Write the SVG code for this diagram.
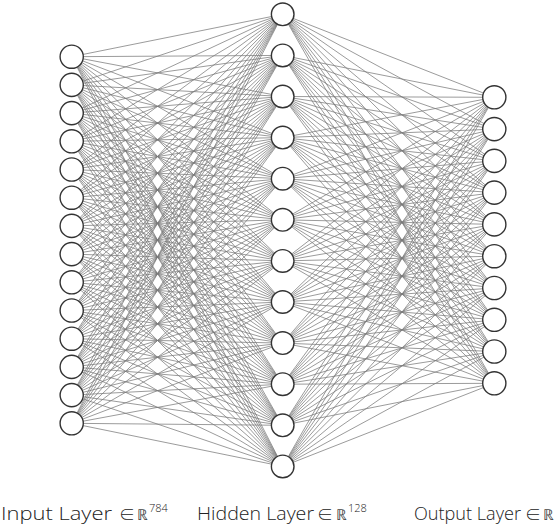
<svg xmlns="http://www.w3.org/2000/svg" width="558" height="526" viewBox="0 0 558 526">
<style>
.c{fill:none;stroke:#7a7a7a;stroke-width:0.75}
.n{fill:#fff;stroke:#333;stroke-width:1.4}
.t{font-family:"Open Sans","Noto Sans","DejaVu Sans",sans-serif;font-weight:300;font-size:19px;fill:#222}
.e{font-family:"Noto Sans CJK JP","Noto Sans CJK SC",sans-serif;font-weight:300;font-size:16px;fill:#222;text-anchor:middle}
.m{font-family:"DejaVu Sans",sans-serif;font-weight:200;font-size:15px;fill:#444}
.s{font-family:"Open Sans","Noto Sans",sans-serif;font-weight:300;font-size:11px;fill:#222}
</style>
<rect width="558" height="526" fill="#fff"/>
<g id="connectors" class="c">
<path d="M282.7 14.3 71.7 56.7M282.7 14.3 71.7 84.9M282.7 14.3 71.7 113.1M282.7 14.3 71.7 141.3M282.7 14.3 71.7 169.5M282.7 14.3 71.7 197.7M282.7 14.3 71.7 225.9M282.7 14.3 71.7 254.1M282.7 14.3 71.7 282.3M282.7 14.3 71.7 310.5M282.7 14.3 71.7 338.7M282.7 14.3 71.7 366.9M282.7 14.3 71.7 395.1M282.7 14.3 71.7 423.3M282.7 14.3 494.3 97.3M282.7 14.3 494.3 129.1M282.7 14.3 494.3 160.9M282.7 14.3 494.3 192.6M282.7 14.3 494.3 224.4M282.7 14.3 494.3 256.2M282.7 14.3 494.3 288M282.7 14.3 494.3 319.8M282.7 14.3 494.3 351.5M282.7 14.3 494.3 383.3"/>
<path d="M282.7 55.4 71.7 56.7M282.7 55.4 71.7 84.9M282.7 55.4 71.7 113.1M282.7 55.4 71.7 141.3M282.7 55.4 71.7 169.5M282.7 55.4 71.7 197.7M282.7 55.4 71.7 225.9M282.7 55.4 71.7 254.1M282.7 55.4 71.7 282.3M282.7 55.4 71.7 310.5M282.7 55.4 71.7 338.7M282.7 55.4 71.7 366.9M282.7 55.4 71.7 395.1M282.7 55.4 71.7 423.3M282.7 55.4 494.3 97.3M282.7 55.4 494.3 129.1M282.7 55.4 494.3 160.9M282.7 55.4 494.3 192.6M282.7 55.4 494.3 224.4M282.7 55.4 494.3 256.2M282.7 55.4 494.3 288M282.7 55.4 494.3 319.8M282.7 55.4 494.3 351.5M282.7 55.4 494.3 383.3"/>
<path d="M282.7 96.5 71.7 56.7M282.7 96.5 71.7 84.9M282.7 96.5 71.7 113.1M282.7 96.5 71.7 141.3M282.7 96.5 71.7 169.5M282.7 96.5 71.7 197.7M282.7 96.5 71.7 225.9M282.7 96.5 71.7 254.1M282.7 96.5 71.7 282.3M282.7 96.5 71.7 310.5M282.7 96.5 71.7 338.7M282.7 96.5 71.7 366.9M282.7 96.5 71.7 395.1M282.7 96.5 71.7 423.3M282.7 96.5 494.3 97.3M282.7 96.5 494.3 129.1M282.7 96.5 494.3 160.9M282.7 96.5 494.3 192.6M282.7 96.5 494.3 224.4M282.7 96.5 494.3 256.2M282.7 96.5 494.3 288M282.7 96.5 494.3 319.8M282.7 96.5 494.3 351.5M282.7 96.5 494.3 383.3"/>
<path d="M282.7 137.6 71.7 56.7M282.7 137.6 71.7 84.9M282.7 137.6 71.7 113.1M282.7 137.6 71.7 141.3M282.7 137.6 71.7 169.5M282.7 137.6 71.7 197.7M282.7 137.6 71.7 225.9M282.7 137.6 71.7 254.1M282.7 137.6 71.7 282.3M282.7 137.6 71.7 310.5M282.7 137.6 71.7 338.7M282.7 137.6 71.7 366.9M282.7 137.6 71.7 395.1M282.7 137.6 71.7 423.3M282.7 137.6 494.3 97.3M282.7 137.6 494.3 129.1M282.7 137.6 494.3 160.9M282.7 137.6 494.3 192.6M282.7 137.6 494.3 224.4M282.7 137.6 494.3 256.2M282.7 137.6 494.3 288M282.7 137.6 494.3 319.8M282.7 137.6 494.3 351.5M282.7 137.6 494.3 383.3"/>
<path d="M282.7 178.7 71.7 56.7M282.7 178.7 71.7 84.9M282.7 178.7 71.7 113.1M282.7 178.7 71.7 141.3M282.7 178.7 71.7 169.5M282.7 178.7 71.7 197.7M282.7 178.7 71.7 225.9M282.7 178.7 71.7 254.1M282.7 178.7 71.7 282.3M282.7 178.7 71.7 310.5M282.7 178.7 71.7 338.7M282.7 178.7 71.7 366.9M282.7 178.7 71.7 395.1M282.7 178.7 71.7 423.3M282.7 178.7 494.3 97.3M282.7 178.7 494.3 129.1M282.7 178.7 494.3 160.9M282.7 178.7 494.3 192.6M282.7 178.7 494.3 224.4M282.7 178.7 494.3 256.2M282.7 178.7 494.3 288M282.7 178.7 494.3 319.8M282.7 178.7 494.3 351.5M282.7 178.7 494.3 383.3"/>
<path d="M282.7 219.8 71.7 56.7M282.7 219.8 71.7 84.9M282.7 219.8 71.7 113.1M282.7 219.8 71.7 141.3M282.7 219.8 71.7 169.5M282.7 219.8 71.7 197.7M282.7 219.8 71.7 225.9M282.7 219.8 71.7 254.1M282.7 219.8 71.7 282.3M282.7 219.8 71.7 310.5M282.7 219.8 71.7 338.7M282.7 219.8 71.7 366.9M282.7 219.8 71.7 395.1M282.7 219.8 71.7 423.3M282.7 219.8 494.3 97.3M282.7 219.8 494.3 129.1M282.7 219.8 494.3 160.9M282.7 219.8 494.3 192.6M282.7 219.8 494.3 224.4M282.7 219.8 494.3 256.2M282.7 219.8 494.3 288M282.7 219.8 494.3 319.8M282.7 219.8 494.3 351.5M282.7 219.8 494.3 383.3"/>
<path d="M282.7 260.9 71.7 56.7M282.7 260.9 71.7 84.9M282.7 260.9 71.7 113.1M282.7 260.9 71.7 141.3M282.7 260.9 71.7 169.5M282.7 260.9 71.7 197.7M282.7 260.9 71.7 225.9M282.7 260.9 71.7 254.1M282.7 260.9 71.7 282.3M282.7 260.9 71.7 310.5M282.7 260.9 71.7 338.7M282.7 260.9 71.7 366.9M282.7 260.9 71.7 395.1M282.7 260.9 71.7 423.3M282.7 260.9 494.3 97.3M282.7 260.9 494.3 129.1M282.7 260.9 494.3 160.9M282.7 260.9 494.3 192.6M282.7 260.9 494.3 224.4M282.7 260.9 494.3 256.2M282.7 260.9 494.3 288M282.7 260.9 494.3 319.8M282.7 260.9 494.3 351.5M282.7 260.9 494.3 383.3"/>
<path d="M282.7 302 71.7 56.7M282.7 302 71.7 84.9M282.7 302 71.7 113.1M282.7 302 71.7 141.3M282.7 302 71.7 169.5M282.7 302 71.7 197.7M282.7 302 71.7 225.9M282.7 302 71.7 254.1M282.7 302 71.7 282.3M282.7 302 71.7 310.5M282.7 302 71.7 338.7M282.7 302 71.7 366.9M282.7 302 71.7 395.1M282.7 302 71.7 423.3M282.7 302 494.3 97.3M282.7 302 494.3 129.1M282.7 302 494.3 160.9M282.7 302 494.3 192.6M282.7 302 494.3 224.4M282.7 302 494.3 256.2M282.7 302 494.3 288M282.7 302 494.3 319.8M282.7 302 494.3 351.5M282.7 302 494.3 383.3"/>
<path d="M282.7 343.1 71.7 56.7M282.7 343.1 71.7 84.9M282.7 343.1 71.7 113.1M282.7 343.1 71.7 141.3M282.7 343.1 71.7 169.5M282.7 343.1 71.7 197.7M282.7 343.1 71.7 225.9M282.7 343.1 71.7 254.1M282.7 343.1 71.7 282.3M282.7 343.1 71.7 310.5M282.7 343.1 71.7 338.7M282.7 343.1 71.7 366.9M282.7 343.1 71.7 395.1M282.7 343.1 71.7 423.3M282.7 343.1 494.3 97.3M282.7 343.1 494.3 129.1M282.7 343.1 494.3 160.9M282.7 343.1 494.3 192.6M282.7 343.1 494.3 224.4M282.7 343.1 494.3 256.2M282.7 343.1 494.3 288M282.7 343.1 494.3 319.8M282.7 343.1 494.3 351.5M282.7 343.1 494.3 383.3"/>
<path d="M282.7 384.2 71.7 56.7M282.7 384.2 71.7 84.9M282.7 384.2 71.7 113.1M282.7 384.2 71.7 141.3M282.7 384.2 71.7 169.5M282.7 384.2 71.7 197.7M282.7 384.2 71.7 225.9M282.7 384.2 71.7 254.1M282.7 384.2 71.7 282.3M282.7 384.2 71.7 310.5M282.7 384.2 71.7 338.7M282.7 384.2 71.7 366.9M282.7 384.2 71.7 395.1M282.7 384.2 71.7 423.3M282.7 384.2 494.3 97.3M282.7 384.2 494.3 129.1M282.7 384.2 494.3 160.9M282.7 384.2 494.3 192.6M282.7 384.2 494.3 224.4M282.7 384.2 494.3 256.2M282.7 384.2 494.3 288M282.7 384.2 494.3 319.8M282.7 384.2 494.3 351.5M282.7 384.2 494.3 383.3"/>
<path d="M282.7 425.3 71.7 56.7M282.7 425.3 71.7 84.9M282.7 425.3 71.7 113.1M282.7 425.3 71.7 141.3M282.7 425.3 71.7 169.5M282.7 425.3 71.7 197.7M282.7 425.3 71.7 225.9M282.7 425.3 71.7 254.1M282.7 425.3 71.7 282.3M282.7 425.3 71.7 310.5M282.7 425.3 71.7 338.7M282.7 425.3 71.7 366.9M282.7 425.3 71.7 395.1M282.7 425.3 71.7 423.3M282.7 425.3 494.3 97.3M282.7 425.3 494.3 129.1M282.7 425.3 494.3 160.9M282.7 425.3 494.3 192.6M282.7 425.3 494.3 224.4M282.7 425.3 494.3 256.2M282.7 425.3 494.3 288M282.7 425.3 494.3 319.8M282.7 425.3 494.3 351.5M282.7 425.3 494.3 383.3"/>
<path d="M282.7 466.4 71.7 56.7M282.7 466.4 71.7 84.9M282.7 466.4 71.7 113.1M282.7 466.4 71.7 141.3M282.7 466.4 71.7 169.5M282.7 466.4 71.7 197.7M282.7 466.4 71.7 225.9M282.7 466.4 71.7 254.1M282.7 466.4 71.7 282.3M282.7 466.4 71.7 310.5M282.7 466.4 71.7 338.7M282.7 466.4 71.7 366.9M282.7 466.4 71.7 395.1M282.7 466.4 71.7 423.3M282.7 466.4 494.3 97.3M282.7 466.4 494.3 129.1M282.7 466.4 494.3 160.9M282.7 466.4 494.3 192.6M282.7 466.4 494.3 224.4M282.7 466.4 494.3 256.2M282.7 466.4 494.3 288M282.7 466.4 494.3 319.8M282.7 466.4 494.3 351.5M282.7 466.4 494.3 383.3"/>
</g>
<g id="input-layer" class="n">
<g id="in1"><circle cx="71.7" cy="56.7" r="11.6"/></g>
<g id="in2"><circle cx="71.7" cy="84.9" r="11.6"/></g>
<g id="in3"><circle cx="71.7" cy="113.1" r="11.6"/></g>
<g id="in4"><circle cx="71.7" cy="141.3" r="11.6"/></g>
<g id="in5"><circle cx="71.7" cy="169.5" r="11.6"/></g>
<g id="in6"><circle cx="71.7" cy="197.7" r="11.6"/></g>
<g id="in7"><circle cx="71.7" cy="225.9" r="11.6"/></g>
<g id="in8"><circle cx="71.7" cy="254.1" r="11.6"/></g>
<g id="in9"><circle cx="71.7" cy="282.3" r="11.6"/></g>
<g id="in10"><circle cx="71.7" cy="310.5" r="11.6"/></g>
<g id="in11"><circle cx="71.7" cy="338.7" r="11.6"/></g>
<g id="in12"><circle cx="71.7" cy="366.9" r="11.6"/></g>
<g id="in13"><circle cx="71.7" cy="395.1" r="11.6"/></g>
<g id="in14"><circle cx="71.7" cy="423.3" r="11.6"/></g>
</g>
<g id="hidden-layer" class="n">
<g id="h1"><circle cx="282.7" cy="14.3" r="11.3"/></g>
<g id="h2"><circle cx="282.7" cy="55.4" r="11.3"/></g>
<g id="h3"><circle cx="282.7" cy="96.5" r="11.3"/></g>
<g id="h4"><circle cx="282.7" cy="137.6" r="11.3"/></g>
<g id="h5"><circle cx="282.7" cy="178.7" r="11.3"/></g>
<g id="h6"><circle cx="282.7" cy="219.8" r="11.3"/></g>
<g id="h7"><circle cx="282.7" cy="260.9" r="11.3"/></g>
<g id="h8"><circle cx="282.7" cy="302" r="11.3"/></g>
<g id="h9"><circle cx="282.7" cy="343.1" r="11.3"/></g>
<g id="h10"><circle cx="282.7" cy="384.2" r="11.3"/></g>
<g id="h11"><circle cx="282.7" cy="425.3" r="11.3"/></g>
<g id="h12"><circle cx="282.7" cy="466.4" r="11.3"/></g>
</g>
<g id="output-layer" class="n">
<g id="o1"><circle cx="494.3" cy="97.3" r="11.6"/></g>
<g id="o2"><circle cx="494.3" cy="129.1" r="11.6"/></g>
<g id="o3"><circle cx="494.3" cy="160.9" r="11.6"/></g>
<g id="o4"><circle cx="494.3" cy="192.6" r="11.6"/></g>
<g id="o5"><circle cx="494.3" cy="224.4" r="11.6"/></g>
<g id="o6"><circle cx="494.3" cy="256.2" r="11.6"/></g>
<g id="o7"><circle cx="494.3" cy="288" r="11.6"/></g>
<g id="o8"><circle cx="494.3" cy="319.8" r="11.6"/></g>
<g id="o9"><circle cx="494.3" cy="351.5" r="11.6"/></g>
<g id="o10"><circle cx="494.3" cy="383.3" r="11.6"/></g>
</g>
<g id="labels">
<text class="t" x="1" y="520" textLength="111" lengthAdjust="spacingAndGlyphs">Input Layer</text>
<text class="e" x="127" y="520">∈</text>
<text class="m" x="137" y="520">ℝ</text>
<text class="s" x="149" y="512">784</text>
<text class="t" x="197" y="520" textLength="117" lengthAdjust="spacingAndGlyphs">Hidden Layer</text>
<text class="e" x="325" y="520">∈</text>
<text class="m" x="336" y="520">ℝ</text>
<text class="s" x="348" y="512">128</text>
<text class="t" x="414" y="520" textLength="107" lengthAdjust="spacingAndGlyphs">Output Layer</text>
<text class="e" x="533" y="520">∈</text>
<text class="m" x="543" y="520">ℝ</text>
</g>
</svg>
